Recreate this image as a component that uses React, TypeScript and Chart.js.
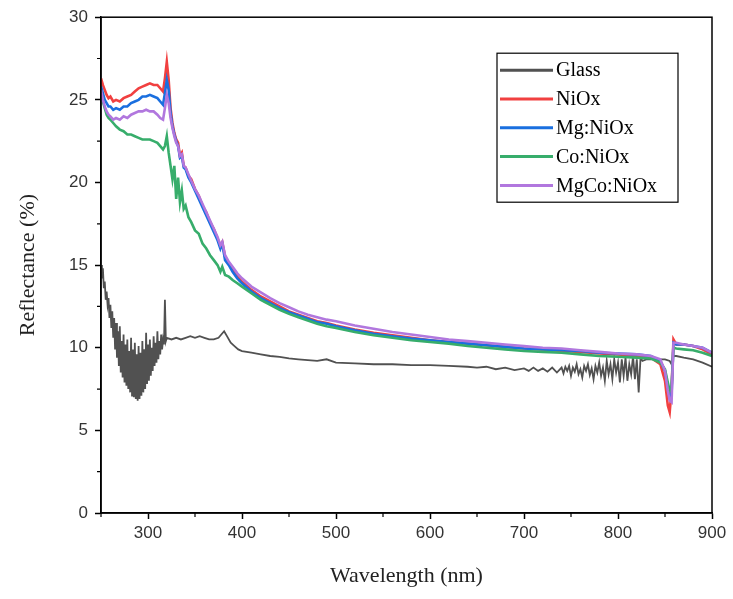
import React, { useEffect, useRef } from 'react';
import { Chart, registerables } from 'chart.js';

Chart.register(...registerables);

// ---- Data ----
const wavelengths = [
  250, 252, 254, 256, 258, 260, 263, 266, 270, 274,
  278, 282, 286, 290, 294, 298, 302, 306, 310, 313,
  316, 318, 320, 322, 324, 326, 328, 330, 332, 334,
  336, 338, 340, 343, 346, 350, 354, 358, 362, 366,
  370, 374, 377, 379, 382, 386, 390, 395, 400, 410,
  420, 430, 440, 450, 460, 470, 480, 490, 500, 520,
  540, 560, 580, 600, 620, 640, 660, 680, 700, 720,
  740, 760, 780, 800, 820, 835, 845, 850, 853, 855,
  857, 859, 862, 870, 880, 890, 900,
];

const niox = [
  26.3, 25.9, 25.6, 25.3, 25.1, 25.2, 24.9, 25.0, 24.9, 25.1,
  25.2, 25.3, 25.5, 25.7, 25.8, 25.9, 26.0, 25.9, 25.9, 25.7,
  25.5, 26.3, 27.3, 26.2, 24.5, 23.6, 23.0, 22.6, 22.4, 21.6,
  21.8, 21.0, 20.9, 20.4, 20.2, 19.6, 19.2, 18.6, 18.2, 17.6,
  17.2, 16.6, 16.2, 16.4, 15.5, 15.1, 14.7, 14.3, 14.0, 13.5,
  13.1, 12.8, 12.5, 12.2, 12.0, 11.8, 11.6, 11.5, 11.35, 11.1,
  10.9, 10.75, 10.6, 10.45, 10.35, 10.25, 10.15, 10.05, 9.95, 9.9,
  9.8, 9.75, 9.65, 9.6, 9.5, 9.4, 9.0, 8.0, 6.5, 6.1,
  7.5, 10.5, 10.2, 10.2, 10.1, 9.9, 9.6,
];

const mgNiox = [
  25.8, 25.4, 25.0, 24.8, 24.6, 24.6, 24.4, 24.5, 24.4, 24.6,
  24.6, 24.8, 24.9, 25.0, 25.2, 25.2, 25.3, 25.2, 25.1, 24.9,
  24.7, 25.4, 26.2, 25.6, 24.2, 23.4, 22.9, 22.5, 22.2, 21.5,
  21.6, 20.9, 20.8, 20.3, 20.0, 19.5, 19.0, 18.5, 18.0, 17.5,
  17.0, 16.5, 16.0, 16.3, 15.3, 15.0, 14.6, 14.2, 13.9, 13.4,
  13.0, 12.7, 12.4, 12.15, 11.95, 11.75, 11.55, 11.45, 11.3, 11.05,
  10.85, 10.7, 10.55, 10.45, 10.35, 10.25, 10.15, 10.05, 9.95, 9.9,
  9.85, 9.8, 9.7, 9.65, 9.6, 9.5, 9.2, 8.6, 7.6, 7.0,
  7.2, 10.3, 10.2, 10.2, 10.1, 10.0, 9.7,
];

const coNiox = [
  25.5, 24.9, 24.5, 24.1, 23.9, 23.8, 23.6, 23.4, 23.2, 23.1,
  22.9, 22.9, 22.8, 22.7, 22.6, 22.6, 22.6, 22.5, 22.4, 22.2,
  22.0, 22.2, 22.8, 21.8, 21.0, 20.2, 21.0, 19.0, 20.3, 18.8,
  19.5, 18.4, 18.6, 17.9, 17.6, 17.1, 16.9, 16.3, 16.0, 15.6,
  15.3, 15.0, 14.6, 14.9, 14.4, 14.3, 14.1, 13.9, 13.7, 13.3,
  12.9, 12.6, 12.3, 12.05, 11.85, 11.65, 11.45, 11.3, 11.2, 10.95,
  10.75, 10.6, 10.45, 10.35, 10.25, 10.1, 10.0, 9.9, 9.8, 9.75,
  9.7, 9.6, 9.5, 9.45, 9.4, 9.35, 9.1, 8.7, 7.9, 7.4,
  7.6, 10.0, 9.95, 9.9, 9.85, 9.7, 9.5,
];

const mgcoNiox = [
  25.6, 25.0, 24.6, 24.3, 24.1, 24.0, 23.8, 23.9, 23.8, 24.0,
  23.9, 24.1, 24.2, 24.3, 24.3, 24.4, 24.3, 24.3, 24.1, 23.9,
  23.8, 24.5, 25.3, 24.8, 23.9, 23.3, 22.8, 22.4, 22.2, 21.6,
  21.7, 21.0, 20.9, 20.5, 20.1, 19.6, 19.2, 18.7, 18.2, 17.7,
  17.2, 16.7, 16.2, 16.4, 15.6, 15.2, 14.9, 14.5, 14.2, 13.7,
  13.35, 13.0, 12.7, 12.45, 12.2, 12.0, 11.85, 11.7, 11.6, 11.35,
  11.15, 10.95, 10.8, 10.65, 10.5, 10.4, 10.3, 10.2, 10.1, 10.0,
  9.95, 9.85, 9.75, 9.65, 9.6, 9.5, 9.3, 8.6, 7.4, 6.8,
  6.7, 10.3, 10.3, 10.2, 10.1, 10.0, 9.7,
];

const glassWavelengths = [
  250, 251, 252, 253, 254, 255, 256, 257, 258, 259,
  260, 261, 262, 263, 264, 265, 266, 267, 268, 269,
  270, 271, 272, 273, 274, 275, 276, 277, 278, 279,
  280, 281, 282, 283, 284, 285, 286, 287, 288, 289,
  290, 291, 292, 293, 294, 295, 296, 297, 298, 299,
  300, 301, 302, 303, 304, 305, 306, 307, 308, 309,
  310, 311, 312, 313, 314, 315, 316, 317, 318, 319,
  320, 325, 330, 335, 340, 345, 350, 355, 360, 365,
  370, 375, 378, 381, 384, 388, 392, 396, 400, 410,
  420, 430, 440, 450, 460, 470, 480, 490, 500, 520,
  540, 560, 580, 600, 620, 640, 650, 660, 670, 680,
  690, 700, 705, 710, 715, 720, 725, 730, 735, 740,
  742, 744, 746, 748, 750, 752, 754, 756, 758, 760,
  762, 764, 766, 768, 770, 772, 774, 776, 778, 780,
  782, 784, 786, 788, 790, 792, 794, 796, 798, 800,
  802, 804, 806, 808, 810, 812, 814, 816, 818, 820,
  822, 824, 826, 830, 835, 840, 845, 850, 855, 857,
  859, 862, 870, 880, 890, 900,
];

const glass = [
  15.0, 14.2, 14.8, 13.6, 14.0, 12.9, 13.4, 12.6, 13.0, 11.8,
  12.6, 11.2, 12.2, 10.6, 11.8, 9.9, 11.5, 9.4, 11.0, 8.9,
  11.3, 8.5, 10.4, 8.2, 10.8, 7.9, 10.2, 7.7, 10.5, 7.5,
  9.8, 7.3, 10.6, 7.1, 9.9, 7.0, 10.3, 6.9, 9.6, 6.8,
  10.1, 6.9, 9.7, 7.1, 10.4, 7.3, 9.9, 7.5, 10.9, 7.8,
  10.2, 8.0, 10.5, 8.3, 10.0, 8.6, 10.7, 8.9, 10.3, 9.1,
  11.0, 9.3, 10.4, 9.6, 10.8, 9.9, 10.5, 10.2, 12.9, 10.4,
  10.6, 10.5, 10.6, 10.5, 10.6, 10.7, 10.6, 10.7, 10.6, 10.5,
  10.5, 10.6, 10.8, 11.0, 10.7, 10.3, 10.1, 9.9, 9.8, 9.7,
  9.6, 9.5, 9.45, 9.35, 9.3, 9.25, 9.2, 9.3, 9.1, 9.05,
  9.0, 9.0, 8.95, 8.95, 8.9, 8.85, 8.8, 8.85, 8.7, 8.8,
  8.65, 8.75, 8.6, 8.8, 8.6, 8.75, 8.55, 8.8, 8.5, 8.8,
  8.45, 8.85, 8.6, 8.9, 8.3, 8.8, 8.55, 9.0, 8.4, 8.7,
  8.2, 8.9, 8.6, 9.0, 8.35, 8.75, 8.1, 8.9, 8.5, 9.1,
  8.3, 8.8, 8.0, 9.2, 8.4, 9.0, 8.1, 9.3, 8.5, 9.1,
  7.9, 9.3, 8.3, 9.4, 8.0, 9.0, 8.4, 9.5, 8.1, 9.3,
  7.3, 9.4, 9.2, 9.3, 9.3, 9.35, 9.3, 9.3, 9.2, 9.0,
  9.5, 9.5, 9.4, 9.3, 9.1, 8.85,
];

const seriesLabels = ['Glass', 'NiOx', 'Mg:NiOx', 'Co:NiOx', 'MgCo:NiOx'];
const seriesColors = ['#515151', '#F14040', '#1A6FDF', '#37AD6B', '#B177DE'];

const xMin = 250;
const xMax = 900;
const xStep = 50;
const xLabelEvery = 100;
const yMin = 0;
const yMax = 30;
const yStep = 2.5;
const yLabelEvery = 5;

const xTitle = 'Wavelength (nm)';
const yTitle = 'Reflectance (%)';

const toPoints = (xs: number[], ys: number[]) => xs.map((x, i) => ({ x, y: ys[i] }));

const isMajor = (v: number, every: number) => Math.abs(v / every - Math.round(v / every)) < 1e-6;

const framePlugin = {
  id: 'frameAndMinor',
  afterDatasetsDraw(chart: any) {
    const { ctx, chartArea, scales } = chart;
    ctx.save();
    ctx.strokeStyle = '#000';
    ctx.lineWidth = 1.5;
    ctx.strokeRect(chartArea.left, chartArea.top, chartArea.right - chartArea.left, chartArea.bottom - chartArea.top);
    ctx.lineWidth = 1.2;
    ctx.beginPath();
    scales.x.ticks.forEach((t: any) => {
      if (!isMajor(t.value, xLabelEvery)) {
        const px = scales.x.getPixelForValue(t.value);
        ctx.moveTo(px, chartArea.bottom);
        ctx.lineTo(px, chartArea.bottom + 4);
      }
    });
    scales.y.ticks.forEach((t: any) => {
      if (!isMajor(t.value, yLabelEvery)) {
        const py = scales.y.getPixelForValue(t.value);
        ctx.moveTo(chartArea.left, py);
        ctx.lineTo(chartArea.left - 4, py);
      }
    });
    ctx.stroke();
    ctx.restore();
  },
  afterDraw(chart: any) {
    const { ctx, chartArea } = chart;
    const boxW = 181;
    const boxH = 149;
    const x0 = chartArea.right - 215;
    const y0 = chartArea.top + 36;
    ctx.save();
    ctx.fillStyle = '#fff';
    ctx.fillRect(x0, y0, boxW, boxH);
    ctx.strokeStyle = '#000';
    ctx.lineWidth = 1.2;
    ctx.strokeRect(x0, y0, boxW, boxH);
    ctx.font = '20px "Liberation Serif", "Times New Roman", serif';
    ctx.textBaseline = 'middle';
    ctx.textAlign = 'left';
    seriesLabels.forEach((label, i) => {
      const cy = y0 + 17 + i * 28.8;
      ctx.strokeStyle = seriesColors[i];
      ctx.lineWidth = 3;
      ctx.beginPath();
      ctx.moveTo(x0 + 3, cy);
      ctx.lineTo(x0 + 56, cy);
      ctx.stroke();
      ctx.fillStyle = '#000';
      ctx.fillText(label, x0 + 59, cy + 1);
    });
    ctx.restore();
  },
};

export default function App() {
  const canvasRef = useRef<HTMLCanvasElement | null>(null);

  useEffect(() => {
    const canvas = canvasRef.current;
    if (!canvas) return;
    const seriesData = [
      toPoints(glassWavelengths, glass),
      toPoints(wavelengths, niox),
      toPoints(wavelengths, mgNiox),
      toPoints(wavelengths, coNiox),
      toPoints(wavelengths, mgcoNiox),
    ];
    const datasets = seriesData.map((data, i) => ({
      label: seriesLabels[i],
      data,
      borderColor: seriesColors[i],
      backgroundColor: seriesColors[i],
      borderWidth: i === 0 ? 1.8 : 2.6,
      pointRadius: 0,
      tension: 0,
      fill: false,
      order: seriesLabels.length - i,
    }));

    const tickFontColor = '#333';
    const chart = new Chart(canvas, {
      type: 'line',
      data: { datasets },
      plugins: [framePlugin],
      options: {
        animation: false,
        responsive: false,
        maintainAspectRatio: false,
        events: [],
        layout: { padding: { left: 0, top: 17, right: 21, bottom: 0 } },
        plugins: {
          legend: { display: false },
          tooltip: { enabled: false },
          title: { display: false },
        },
        scales: {
          x: {
            type: 'linear',
            min: xMin,
            max: xMax,
            afterFit: (scale: any) => { scale.height = 86; },
            ticks: {
              stepSize: xStep,
              autoSkip: false,
              maxRotation: 0,
              padding: 4,
              color: tickFontColor,
              font: { family: '"Liberation Sans", Arial, sans-serif', size: 17 },
              callback: (v: any) => (isMajor(Number(v), xLabelEvery) ? String(v) : ''),
            },
            grid: {
              drawOnChartArea: false,
              drawTicks: true,
              tickLength: 6,
              tickWidth: 1.5,
              tickColor: (c: any) => (c.tick && isMajor(c.tick.value, xLabelEvery) ? '#000' : 'rgba(0,0,0,0)'),
            },
            border: { display: true, color: '#000', width: 1.5 },
            title: {
              display: true,
              text: xTitle,
              color: '#222',
              font: { family: '"Liberation Serif", "Times New Roman", serif', size: 22 },
              padding: { top: 0, bottom: 10 },
            },
          },
          y: {
            type: 'linear',
            min: yMin,
            max: yMax,
            afterFit: (scale: any) => { scale.width = 101; },
            ticks: {
              stepSize: yStep,
              autoSkip: false,
              padding: 7,
              color: tickFontColor,
              font: { family: '"Liberation Sans", Arial, sans-serif', size: 17 },
              callback: (v: any) => (isMajor(Number(v), yLabelEvery) ? String(v) : ''),
            },
            grid: {
              drawOnChartArea: false,
              drawTicks: true,
              tickLength: 6,
              tickWidth: 1.5,
              tickColor: (c: any) => (c.tick && isMajor(c.tick.value, yLabelEvery) ? '#000' : 'rgba(0,0,0,0)'),
            },
            border: { display: true, color: '#000', width: 1.5 },
            title: {
              display: true,
              text: yTitle,
              color: '#222',
              font: { family: '"Liberation Serif", "Times New Roman", serif', size: 22 },
              padding: { top: 15, bottom: 0 },
            },
          },
        },
      },
    } as any);

    return () => chart.destroy();
  }, []);

  return (
    <div style={{ position: 'fixed', left: 0, top: 0, width: 733, height: 599, background: '#fff' }}>
      <canvas ref={canvasRef} width={733} height={599} style={{ display: 'block', width: 733, height: 599 }} />
    </div>
  );
}
